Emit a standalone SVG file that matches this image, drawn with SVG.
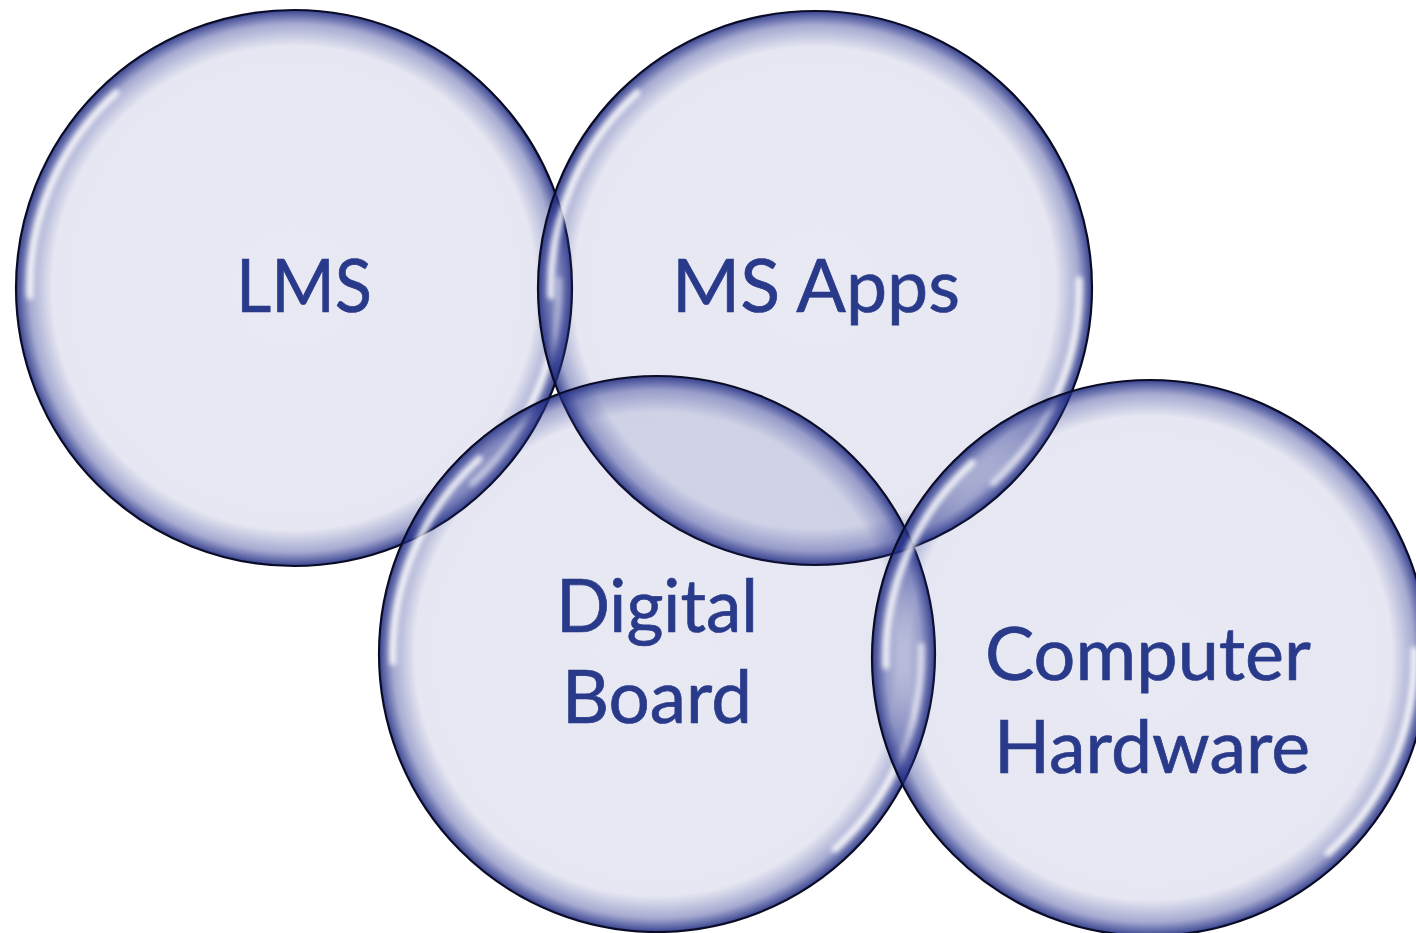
<svg xmlns="http://www.w3.org/2000/svg" xmlns:xlink="http://www.w3.org/1999/xlink" width="1416" height="933" viewBox="0 0 1416 933">
<style>
.bubble{fill:url(#rim);stroke:#0a0c25;stroke-width:2.2}
.lbl{font-family:Lato,"Open Sans","Liberation Sans",sans-serif;font-size:74px;fill:#2a3a8a;stroke:#2a3a8a;stroke-width:0.7;text-anchor:middle}
.hl{fill:none;stroke:#ffffff;stroke-width:7;stroke-linecap:round;opacity:0.85;filter:url(#blur)}
</style>
<defs>
<radialGradient id="rim" cx="0.5" cy="0.5" r="0.5">
<stop offset="0" stop-color="#2a3590" stop-opacity="0.11"/>
<stop offset="0.87" stop-color="#2a3590" stop-opacity="0.12"/>
<stop offset="0.95" stop-color="#2a3590" stop-opacity="0.42"/>
<stop offset="1" stop-color="#1e2a80" stop-opacity="0.88"/>
</radialGradient>
<filter id="blur" x="-20%" y="-20%" width="140%" height="140%"><feGaussianBlur stdDeviation="2.5"/></filter>
<g id="hls">
<path class="hl" d="M -264,8 A 264 264 0 0 1 -178,-195"/>
<path class="hl" d="M 264,-8 A 264 264 0 0 1 178,195"/>
</g>
</defs>
<rect width="1416" height="933" fill="#ffffff"/>
<g id="node-lms">
<circle class="bubble" cx="294" cy="288" r="278"/>
<use xlink:href="#hls" href="#hls" transform="translate(294,288)"/>
<text class="lbl" x="304" y="312" textLength="136" lengthAdjust="spacingAndGlyphs">LMS</text>
</g>
<g id="node-msapps">
<circle class="bubble" cx="815" cy="288" r="277"/>
<use xlink:href="#hls" href="#hls" transform="translate(815,288)"/>
<text class="lbl" x="816" y="312" textLength="288" lengthAdjust="spacingAndGlyphs">MS Apps</text>
</g>
<g id="node-digital">
<circle class="bubble" cx="657" cy="654" r="278"/>
<use xlink:href="#hls" href="#hls" transform="translate(657,654)"/>
<text class="lbl" x="657" y="632" textLength="202" lengthAdjust="spacingAndGlyphs">Digital</text>
<text class="lbl" x="657" y="723" textLength="190" lengthAdjust="spacingAndGlyphs">Board</text>
</g>
<g id="node-hardware">
<circle class="bubble" cx="1150" cy="658" r="278"/>
<use xlink:href="#hls" href="#hls" transform="translate(1150,658)"/>
<text class="lbl" x="1148" y="680" textLength="326" lengthAdjust="spacingAndGlyphs">Computer</text>
<text class="lbl" x="1152" y="773" textLength="316" lengthAdjust="spacingAndGlyphs">Hardware</text>
</g>
<g id="connectors"></g>
</svg>
